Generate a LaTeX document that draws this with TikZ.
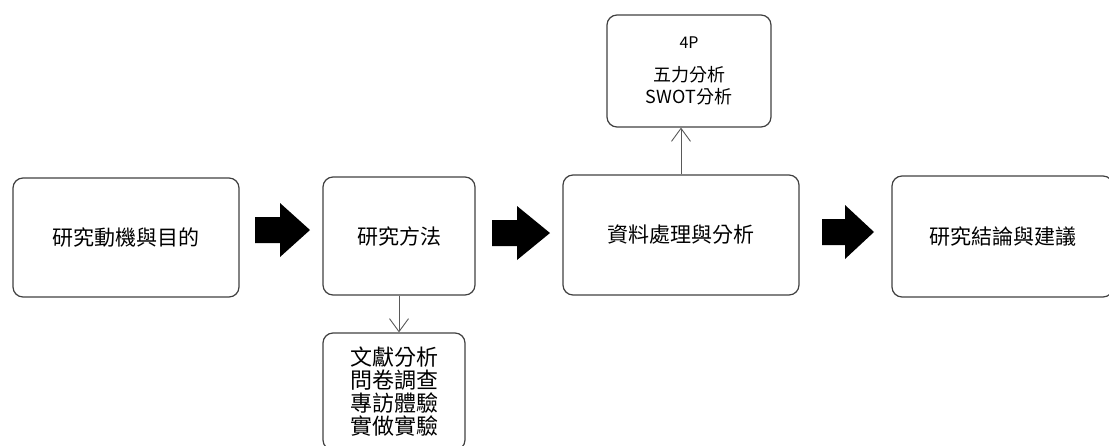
\documentclass[tikz,border=0pt]{standalone}
\usepackage{fontspec}
\setmainfont{Noto Sans CJK TC}
\usetikzlibrary{arrows.meta}
\tikzset{
  stage/.style={draw=black!75, line width=1.2pt, rounded corners=10pt, inner sep=0pt,
    align=center, font=\fontsize{21}{25}\selectfont},
  link/.style={draw=black!65, line width=0.9pt, -{Straight Barb[length=13pt,width=19pt]}},
}
\begin{document}
\begin{tikzpicture}[x=1pt,y=-1pt]
\useasboundingbox (0,0) rectangle (1109,445);
\node[stage, minimum width=226pt, minimum height=119pt] (motive) at (126,237.5) {研究動機與目的};
\node[stage, minimum width=152pt, minimum height=118pt] (method) at (399,236) {研究方法};
\node[stage, minimum width=236pt, minimum height=120pt] (data) at (681,235) {資料處理與分析};
\node[stage, minimum width=221pt, minimum height=121pt] (result) at (1002.5,236.5) {研究結論與建議};
\node[stage, minimum width=164pt, minimum height=112pt, font=\fontsize{18}{22}\selectfont] (tools) at (689,71)
  {{\fontsize{16}{22}\selectfont 4P}\\[11pt]五力分析\\SWOT分析};
\node[stage, minimum width=142pt, minimum height=117pt, font=\fontsize{22}{23}\selectfont] (survey) at (394,391.5)
  {文獻分析\\問卷調查\\專訪體驗\\實做實驗};
% block arrows between the stages
\foreach \a/\b/\c/\y in {255/280/310/230, 492/517/550/233, 822/845/874/232}
  \fill (\a,\y-13) -- (\b,\y-13) -- (\b,\y-27) -- (\c,\y) -- (\b,\y+27) -- (\b,\y+13) -- (\a,\y+13) -- cycle;
\draw[link] (method.south) -- (method.south |- survey.north);
\draw[link] (data.north) -- (data.north |- tools.south);
%\draw[link] (motive.east) -- (method.west);
\end{tikzpicture}
\end{document}
